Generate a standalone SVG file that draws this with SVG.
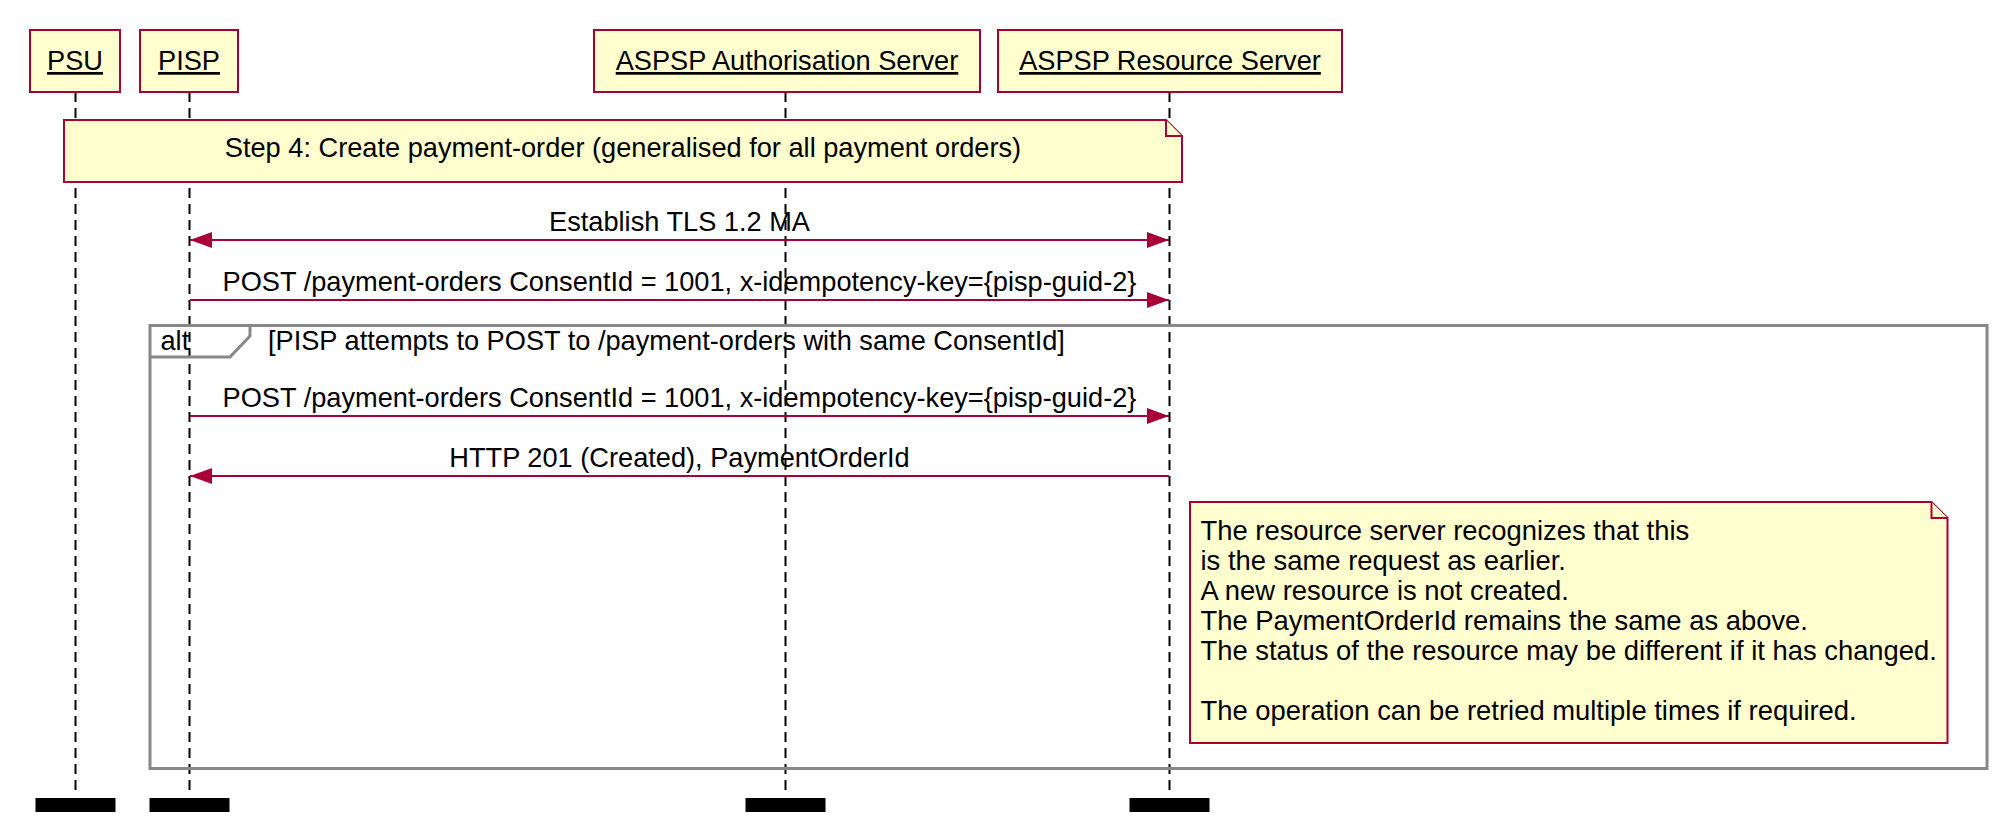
<svg xmlns="http://www.w3.org/2000/svg" width="2008" height="830" viewBox="0 0 2008 830">
<style>
.box{fill:#FEFECE;stroke:#A80036;stroke-width:2}
.life{stroke:#000;stroke-width:2;stroke-dasharray:10 6;fill:none}
.end{fill:#000}
.msg{stroke:#A80036;stroke-width:2;fill:none}
.frame{fill:none;stroke:#888888;stroke-width:3}
.t{font-family:"Liberation Sans",Arial,sans-serif;font-size:27.2px;fill:#000}
.n{font-size:27.4px}
.c{text-anchor:middle}
.u{text-decoration:underline}
</style>
<defs>
<marker id="ah" viewBox="0 0 22 16" refX="22" refY="8" markerWidth="22" markerHeight="16" markerUnits="userSpaceOnUse" orient="auto-start-reverse">
<path d="M0,0 L22,8 L0,16 Z" fill="#A80036"/>
</marker>
</defs>
<rect width="2008" height="830" fill="#FFFFFF"/>
<g id="lifelines">
<line class="life" x1="75.5" y1="92" x2="75.5" y2="792"/>
<line class="life" x1="189.5" y1="92" x2="189.5" y2="792"/>
<line class="life" x1="785.5" y1="92" x2="785.5" y2="792"/>
<line class="life" x1="1169.5" y1="92" x2="1169.5" y2="792"/>
<rect class="end" x="35.5" y="798" width="80" height="14"/>
<rect class="end" x="149.5" y="798" width="80" height="14"/>
<rect class="end" x="745.5" y="798" width="80" height="14"/>
<rect class="end" x="1129.5" y="798" width="80" height="14"/>
</g>
<g id="PSU">
<rect class="box" x="30" y="30" width="90" height="62"/>
<text class="t c u" x="75" y="70">PSU</text>
</g>
<g id="PISP">
<rect class="box" x="140" y="30" width="98" height="62"/>
<text class="t c u" x="189" y="70">PISP</text>
</g>
<g id="AuthServer">
<rect class="box" x="594" y="30" width="386" height="62"/>
<text class="t c u" x="787" y="70">ASPSP Authorisation Server</text>
</g>
<g id="ResourceServer">
<rect class="box" x="998" y="30" width="344" height="62"/>
<text class="t c u" x="1170" y="70">ASPSP Resource Server</text>
</g>
<g id="altFrame">
<rect class="frame" x="150" y="325.5" width="1837" height="443"/>
<path class="frame" d="M150,357 L230,357 L250,336 L250,325.5"/>
<text class="t" x="160.5" y="349.5">alt</text>
<text class="t" x="268" y="349.5">[PISP attempts to POST to /payment-orders with same ConsentId]</text>
</g>
<g id="note1">
<path class="box" d="M64,120 L1166,120 L1182,136 L1182,182 L64,182 Z"/>
<path class="box" d="M1166,120 L1166,136 L1182,136"/>
<text class="t c" x="623" y="157">Step 4: Create payment-order (generalised for all payment orders)</text>
</g>
<g id="note2">
<path class="box" d="M1190,502 L1931.5,502 L1947.5,518 L1947.5,743 L1190,743 Z"/>
<path class="box" d="M1931.5,502 L1931.5,518 L1947.5,518"/>
<text class="t n" x="1200.5" y="539.5">The resource server recognizes that this</text>
<text class="t n" x="1200.5" y="569.5">is the same request as earlier.</text>
<text class="t n" x="1200.5" y="599.5">A new resource is not created.</text>
<text class="t n" x="1200.5" y="629.5">The PaymentOrderId remains the same as above.</text>
<text class="t n" x="1200.5" y="659.5">The status of the resource may be different if it has changed.</text>
<text class="t n" x="1200.5" y="719.5">The operation can be retried multiple times if required.</text>
</g>
<g id="connectors">
<line class="msg" x1="190" y1="240" x2="1169" y2="240" marker-start="url(#ah)" marker-end="url(#ah)"/>
<text class="t c" x="679.5" y="231">Establish TLS 1.2 MA</text>
<line class="msg" x1="190" y1="300" x2="1169" y2="300" marker-end="url(#ah)"/>
<text class="t c" x="679.5" y="291">POST /payment-orders ConsentId = 1001, x-idempotency-key={pisp-guid-2}</text>
<line class="msg" x1="190" y1="416" x2="1169" y2="416" marker-end="url(#ah)"/>
<text class="t c" x="679.5" y="407">POST /payment-orders ConsentId = 1001, x-idempotency-key={pisp-guid-2}</text>
<line class="msg" x1="1169" y1="476" x2="190" y2="476" marker-end="url(#ah)"/>
<text class="t c" x="679.5" y="467">HTTP 201 (Created), PaymentOrderId</text>
</g>
</svg>
